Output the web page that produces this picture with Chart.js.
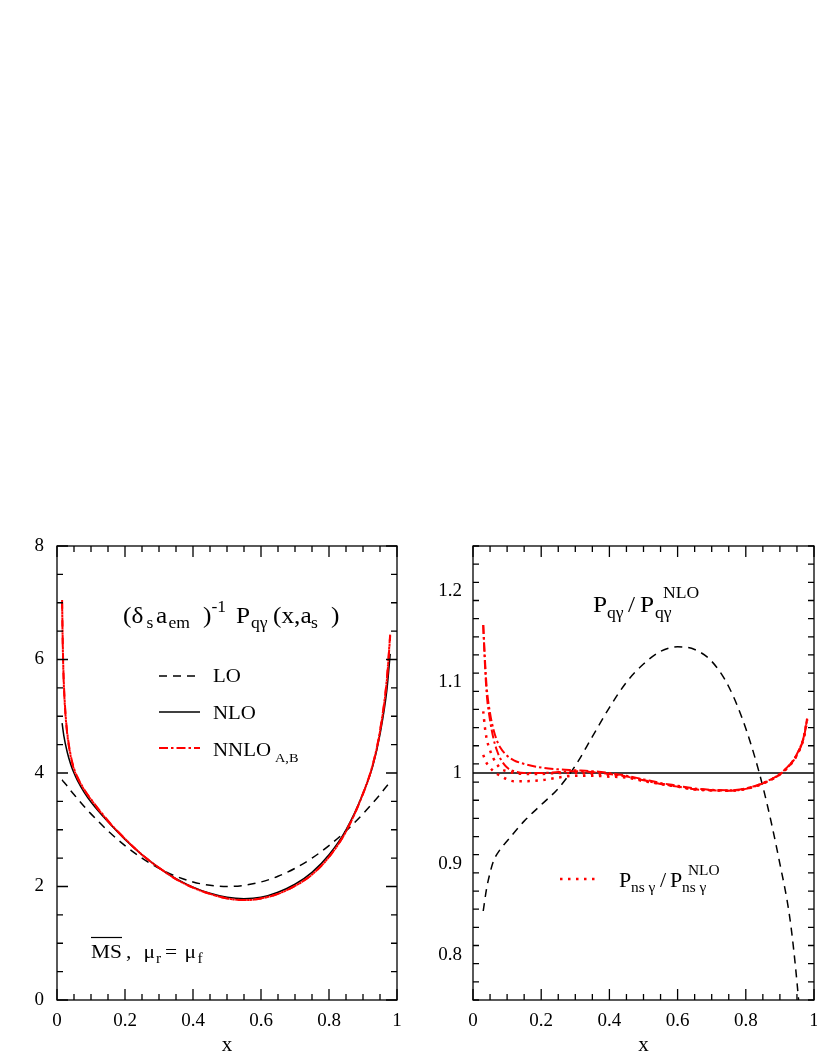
<!DOCTYPE html>
<html>
<head>
<meta charset="utf-8">
<script src="https://cdn.jsdelivr.net/npm/chart.js@4.4.1/dist/chart.umd.min.js"></script>
<style>
  body { margin: 0; background: #fff; }
  .panel { position: absolute; top: 530px; }
</style>
</head>
<body>
<div class="panel" style="left:0px"><canvas id="leftChart" width="410" height="528"></canvas></div>
<div class="panel" style="left:410px"><canvas id="rightChart" width="407" height="528"></canvas></div>
<script>
// Tick labels
const xTicks = [0, 0.2, 0.4, 0.6, 0.8, 1];
const leftYTicks = [0, 2, 4, 6, 8];
const rightYTicks = [0.8, 0.9, 1, 1.1, 1.2];

// Left panel: (delta_s a_em)^-1 P_qgamma(x, a_s)
const xLeft = [0.015, 0.02, 0.03, 0.04, 0.05, 0.06, 0.08, 0.1, 0.15, 0.2, 0.25, 0.3, 0.35, 0.4,
  0.45, 0.5, 0.55, 0.6, 0.65, 0.7, 0.75, 0.8, 0.85, 0.9, 0.93, 0.95, 0.97, 0.98];
const loValues = [3.88, 3.84, 3.77, 3.69, 3.62, 3.55, 3.41, 3.28, 2.98, 2.72, 2.50, 2.32, 2.18, 2.08,
  2.02, 2.00, 2.02, 2.08, 2.18, 2.32, 2.50, 2.72, 2.98, 3.28, 3.48, 3.62, 3.77, 3.84];
const nloValues = [4.88, 4.66, 4.37, 4.16, 4.00, 3.87, 3.66, 3.49, 3.14, 2.83, 2.56, 2.33, 2.14, 1.99,
  1.88, 1.81, 1.785, 1.81, 1.90, 2.04, 2.25, 2.56, 3.00, 3.64, 4.15, 4.68, 5.45, 6.10];

const xNnlo = [0.015, 0.0165, 0.018, 0.02, 0.025, 0.03, 0.04, 0.05, 0.06, 0.08, 0.1, 0.15, 0.2, 0.25,
  0.3, 0.35, 0.4, 0.45, 0.5, 0.55, 0.6, 0.65, 0.7, 0.75, 0.8, 0.85, 0.9, 0.93, 0.95, 0.97, 0.98];
const nnloA = [7.05, 6.45, 6.0, 5.6, 5.05, 4.72, 4.32, 4.08, 3.93, 3.71, 3.54, 3.16, 2.84, 2.56,
  2.33, 2.13, 1.98, 1.87, 1.79, 1.76, 1.79, 1.87, 2.01, 2.21, 2.52, 2.97, 3.64, 4.18, 4.75, 5.65, 6.45];
const nnloB = [7.0, 6.4, 5.95, 5.56, 5.02, 4.69, 4.30, 4.06, 3.92, 3.70, 3.53, 3.15, 2.84, 2.56,
  2.33, 2.13, 1.98, 1.87, 1.79, 1.76, 1.79, 1.87, 2.01, 2.21, 2.52, 2.97, 3.63, 4.17, 4.73, 5.62, 6.42];

// Right panel: ratios to NLO
const xRatio = [0.03, 0.035, 0.04, 0.05, 0.06, 0.07, 0.08, 0.1, 0.12, 0.15, 0.2, 0.25, 0.3, 0.35,
  0.4, 0.45, 0.5, 0.55, 0.6, 0.65, 0.7, 0.75, 0.8, 0.85, 0.9, 0.93, 0.95, 0.97, 0.98];
const ratioA = [1.163, 1.125, 1.095, 1.066, 1.048, 1.036, 1.028, 1.019, 1.014, 1.010, 1.006, 1.004, 1.003, 1.002,
  1.000, 0.997, 0.993, 0.989, 0.986, 0.983, 0.9815, 0.981, 0.983, 0.989, 0.999, 1.010, 1.021, 1.040, 1.060];
const ratioB = [1.163, 1.120, 1.088, 1.058, 1.038, 1.025, 1.016, 1.006, 1.002, 1.000, 1.000, 1.001, 1.002, 1.001,
  0.999, 0.996, 0.992, 0.988, 0.985, 0.982, 0.981, 0.9805, 0.9825, 0.9885, 0.9985, 1.009, 1.020, 1.039, 1.059];
const nsRatioA = [1.068, 1.050, 1.038, 1.025, 1.016, 1.010, 1.005, 1.002, 1.000, 0.999, 0.999, 1.000, 1.000, 0.999,
  0.998, 0.996, 0.992, 0.988, 0.985, 0.982, 0.981, 0.9805, 0.9825, 0.9885, 0.9985, 1.009, 1.020, 1.039, 1.059];
const nsRatioB = [1.020, 1.015, 1.011, 1.006, 1.002, 0.999, 0.997, 0.993, 0.991, 0.991, 0.992, 0.995, 0.997, 0.997,
  0.996, 0.995, 0.991, 0.988, 0.985, 0.982, 0.981, 0.9805, 0.9825, 0.9885, 0.9985, 1.009, 1.020, 1.039, 1.059];

const xLoRatio = [0.03, 0.04, 0.05, 0.06, 0.08, 0.1, 0.15, 0.2, 0.25, 0.3, 0.35, 0.4, 0.45, 0.5,
  0.55, 0.6, 0.65, 0.7, 0.75, 0.8, 0.85, 0.9, 0.93, 0.95, 0.97];
const loRatio = [0.848, 0.873, 0.890, 0.903, 0.916, 0.925, 0.947, 0.965, 0.983, 1.008, 1.040, 1.072, 1.100, 1.120,
  1.134, 1.139, 1.136, 1.123, 1.095, 1.049, 0.985, 0.900, 0.838, 0.770, 0.680];

const xUnity = [0, 1];
const unity = [1, 1];

const FONT = '"Liberation Serif", "Times New Roman", serif';
const RED = '#ff0000';
const HSCALE = 1.1; // reference lettering is slightly wide

function points(xs, ys) {
  return xs.map((x, i) => ({ x: x, y: ys[i] }));
}

function line(xs, ys, color, dash, width) {
  return {
    data: points(xs, ys),
    borderColor: color,
    borderWidth: width,
    borderDash: dash,
    pointRadius: 0,
    fill: false,
    cubicInterpolationMode: 'monotone'
  };
}

// Draw text pieces (with sub/superscripts) at given x, on one baseline
function drawText(ctx, y, parts) {
  parts.forEach(p => {
    ctx.save();
    ctx.fillStyle = '#000';
    ctx.textBaseline = 'alphabetic';
    ctx.textAlign = 'left';
    ctx.font = p.s + 'px ' + FONT;
    ctx.translate(p.x, y + (p.dy || 0));
    ctx.scale(HSCALE, 1);
    ctx.fillText(p.t, 0, 0);
    ctx.restore();
  });
}

function sample(ctx, x1, x2, y, color, dash, width) {
  ctx.save();
  ctx.strokeStyle = color;
  ctx.lineWidth = width;
  ctx.setLineDash(dash);
  ctx.beginPath();
  ctx.moveTo(x1, y);
  ctx.lineTo(x2, y);
  ctx.stroke();
  ctx.restore();
}

// Frame with inward major/minor ticks on all four sides
function framePlugin(xMinor, xMajor, yMinor, yMajor) {
  return {
    id: 'frame',
    afterDraw(chart) {
      const { ctx, chartArea: a, scales } = chart;
      const sx = scales.x, sy = scales.y;
      ctx.save();
      ctx.strokeStyle = '#000';
      ctx.lineWidth = 1.3;
      ctx.strokeRect(a.left, a.top, a.right - a.left, a.bottom - a.top);
      ctx.beginPath();
      const nx = Math.round((sx.max - sx.min) / xMinor);
      for (let i = 0; i <= nx; i++) {
        const v = sx.min + i * xMinor;
        const major = Math.abs(v / xMajor - Math.round(v / xMajor)) < 1e-6;
        const len = major ? 11 : 6;
        const px = sx.getPixelForValue(v);
        ctx.moveTo(px, a.bottom); ctx.lineTo(px, a.bottom - len);
        ctx.moveTo(px, a.top); ctx.lineTo(px, a.top + len);
      }
      const ny = Math.round((sy.max - sy.min) / yMinor);
      for (let i = 0; i <= ny; i++) {
        const v = sy.min + i * yMinor;
        const major = Math.abs(v / yMajor - Math.round(v / yMajor)) < 1e-6;
        const len = major ? 11 : 6;
        const py = sy.getPixelForValue(v);
        ctx.moveTo(a.left, py); ctx.lineTo(a.left + len, py);
        ctx.moveTo(a.right, py); ctx.lineTo(a.right - len, py);
      }
      ctx.stroke();
      ctx.restore();
    }
  };
}

function scalesFor(yMin, yMax, yTicks, yWidth, yPad) {
  const tickFont = { family: FONT, size: 19 };
  return {
    x: {
      type: 'linear', min: 0, max: 1,
      grid: { display: false, drawTicks: false },
      border: { display: false },
      afterBuildTicks: s => { s.ticks = xTicks.map(v => ({ value: v })); },
      afterFit: s => { s.height = 58; s.paddingLeft = 0; s.paddingRight = 0; },
      ticks: { color: '#000', font: tickFont, padding: 10, maxRotation: 0, autoSkip: false,
        callback: v => String(v) },
      title: { display: true, text: 'x', color: '#000', font: { family: FONT, size: 21 },
        padding: { top: 0, bottom: 0 } }
    },
    y: {
      type: 'linear', min: yMin, max: yMax,
      grid: { display: false, drawTicks: false },
      border: { display: false },
      afterBuildTicks: s => { s.ticks = yTicks.map(v => ({ value: v })); },
      afterFit: s => { s.width = yWidth; s.paddingTop = 0; s.paddingBottom = 0; },
      ticks: { color: '#000', font: tickFont, padding: yPad, autoSkip: false,
        callback: v => String(v) }
    }
  };
}

const baseOptions = {
  responsive: false,
  animation: false,
  plugins: { legend: { display: false }, tooltip: { enabled: false } }
};

// Left chart
const leftText = {
  id: 'leftText',
  afterDraw(chart) {
    const ctx = chart.ctx;
    drawText(ctx, 93, [
      { t: '(δ', x: 123, s: 23 }, { t: 's', x: 146.5, s: 16, dy: 5 },
      { t: 'a', x: 156, s: 23 }, { t: 'em', x: 168.5, s: 16, dy: 5 },
      { t: ')', x: 203, s: 23 }, { t: '-1', x: 211.5, s: 16, dy: -11.5 },
      { t: 'P', x: 236, s: 23 }, { t: 'qγ', x: 251, s: 16, dy: 5 },
      { t: '(x,a', x: 273, s: 23 }, { t: 's', x: 311, s: 16, dy: 5 },
      { t: ')', x: 331, s: 23 }
    ]);
    sample(ctx, 159, 200, 146, '#000', [8, 6], 1.5);
    sample(ctx, 159, 200, 182, '#000', [], 1.5);
    sample(ctx, 159, 200, 218, RED, [9, 3, 2.5, 3], 2);
    drawText(ctx, 152, [{ t: 'LO', x: 213, s: 19 }]);
    drawText(ctx, 189, [{ t: 'NLO', x: 213, s: 19 }]);
    drawText(ctx, 226, [{ t: 'NNLO', x: 213, s: 19 }, { t: 'A,B', x: 275, s: 13, dy: 6 }]);
    drawText(ctx, 428, [
      { t: 'MS', x: 91, s: 19.5 }, { t: ',', x: 126, s: 19.5 },
      { t: 'μ', x: 143.5, s: 19.5 }, { t: 'r', x: 156, s: 14, dy: 5 },
      { t: '=', x: 165, s: 19.5 }, { t: 'μ', x: 184.5, s: 19.5 }, { t: 'f', x: 197.5, s: 14, dy: 5 }
    ]);
    ctx.save();
    ctx.strokeStyle = '#000';
    ctx.lineWidth = 1.2;
    ctx.beginPath();
    ctx.moveTo(91, 407.5); ctx.lineTo(122, 407.5);
    ctx.stroke();
    ctx.restore();
  }
};

new Chart(document.getElementById('leftChart'), {
  type: 'line',
  data: {
    datasets: [
      line(xNnlo, nnloA, RED, [9, 3, 2.5, 3], 2),
      line(xNnlo, nnloB, RED, [9, 3, 2.5, 3], 2),
      line(xLeft, nloValues, '#000', [], 1.5),
      line(xLeft, loValues, '#000', [8, 6], 1.5)
    ]
  },
  options: Object.assign({}, baseOptions, {
    layout: { padding: { top: 16, right: 13, left: 0, bottom: 0 } },
    scales: scalesFor(0, 8, leftYTicks, 57, 13)
  }),
  plugins: [framePlugin(0.05, 0.2, 0.5, 2), leftText]
});

// Right chart
const rightText = {
  id: 'rightText',
  afterDraw(chart) {
    const ctx = chart.ctx;
    drawText(ctx, 82, [
      { t: 'P', x: 183, s: 23 }, { t: 'qγ', x: 197, s: 16, dy: 6 },
      { t: '/', x: 218, s: 23 },
      { t: 'P', x: 230, s: 23 }, { t: 'qγ', x: 245, s: 16, dy: 6 },
      { t: 'NLO', x: 253, s: 16, dy: -14 }
    ]);
    sample(ctx, 150, 190, 349, RED, [2.5, 5.5], 2.5);
    drawText(ctx, 357, [
      { t: 'P', x: 209, s: 20 }, { t: 'ns γ', x: 221, s: 14, dy: 5 },
      { t: '/', x: 250, s: 20 },
      { t: 'P', x: 260, s: 20 }, { t: 'ns γ', x: 272, s: 14, dy: 5 },
      { t: 'NLO', x: 278, s: 14, dy: -12 }
    ]);
  }
};

new Chart(document.getElementById('rightChart'), {
  type: 'line',
  data: {
    datasets: [
      line(xRatio, ratioA, RED, [9, 3, 2.5, 3], 2),
      line(xRatio, ratioB, RED, [9, 3, 2.5, 3], 2),
      line(xRatio, nsRatioA, RED, [2.5, 5.5], 2.5),
      line(xRatio, nsRatioB, RED, [2.5, 5.5], 2.5),
      line(xUnity, unity, '#000', [], 1.5),
      line(xLoRatio, loRatio, '#000', [8, 6], 1.5)
    ]
  },
  options: Object.assign({}, baseOptions, {
    layout: { padding: { top: 16, right: 3, left: 0, bottom: 0 } },
    scales: scalesFor(0.75, 1.25, rightYTicks, 63, 11)
  }),
  plugins: [framePlugin(0.05, 0.2, 0.02, 0.1), rightText]
});
</script>
</body>
</html>
